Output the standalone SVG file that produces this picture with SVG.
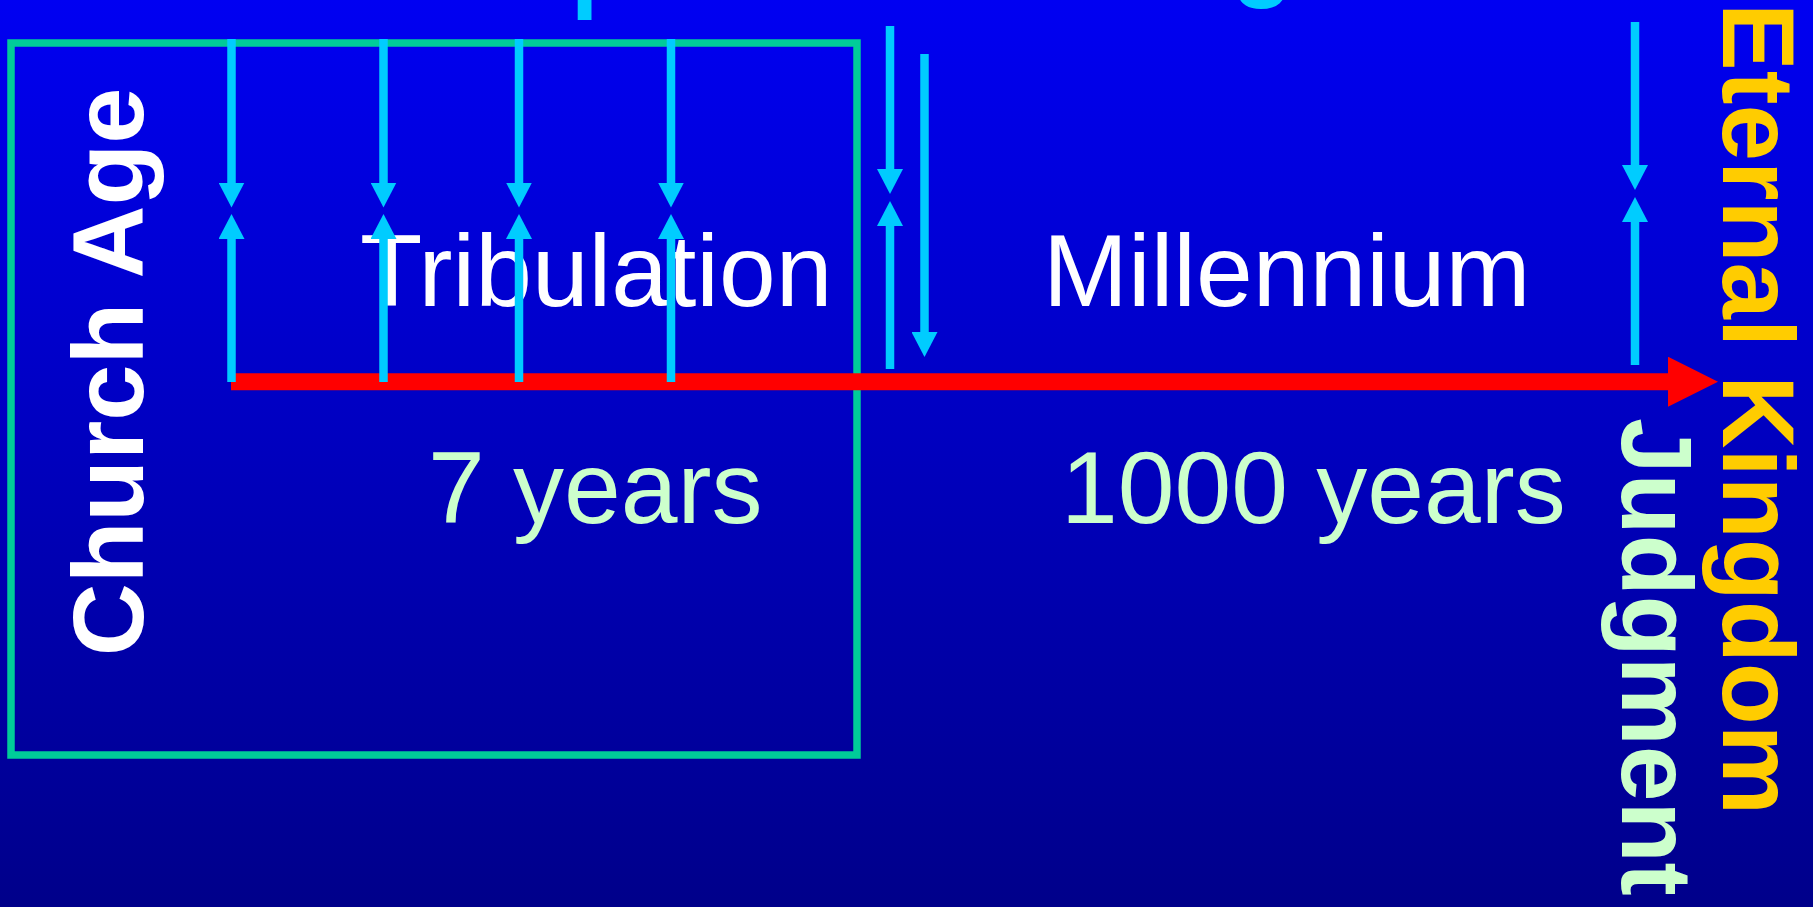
<svg xmlns="http://www.w3.org/2000/svg" width="1813" height="907" viewBox="0 0 1813 907">
  <defs>
    <linearGradient id="bg" x1="0" y1="0" x2="0" y2="1">
      <stop offset="0" stop-color="#0000F2"/>
      <stop offset="1" stop-color="#00008A"/>
    </linearGradient>
    <marker id="cyanHead" viewBox="0 -13 25 26" markerWidth="25" markerHeight="26" refX="1" refY="0" orient="auto" markerUnits="userSpaceOnUse">
      <path d="M0,-13 L25,0 L0,13 z" fill="#00CCFF"/>
    </marker>
    <marker id="redHead" viewBox="0 -25 50 50" markerWidth="50" markerHeight="50" refX="1" refY="0" orient="auto" markerUnits="userSpaceOnUse">
      <path d="M0,-25 L50,0 L0,25 z" fill="#FF0000"/>
    </marker>
  </defs>
  <style>
    .bold { font-family: "Liberation Sans", Arial, sans-serif; font-weight: bold; }
    .reg { font-family: "Liberation Sans", Arial, sans-serif; }
    .cyan { stroke: #00CCFF; stroke-width: 8.5; fill: none; marker-end: url(#cyanHead); }
    .white { fill: #FFFFFF; }
    .mint { fill: #CCFFCC; }
    .gold { fill: #FFCC00; }
    .sky { fill: #00CCFF; }
  </style>
  <rect x="0" y="0" width="1813" height="907" fill="url(#bg)"/>

  <g id="top-labels">
    <text class="bold sky" x="443" y="-1" font-size="100">Raptures</text>
    <text class="bold sky" x="1293" y="-12" font-size="100" text-anchor="end">Coming</text>
  </g>

  <g id="church-age">
    <rect x="11" y="43" width="846" height="712" fill="none" stroke="#00CC99" stroke-width="7.5"/>
    <text class="bold white" font-size="101" text-anchor="middle" transform="translate(143,372) rotate(-90)">Church Age</text>
  </g>

  <g id="tribulation">
    <text class="reg white" x="360" y="306" font-size="102">Tribulation</text>
    <text class="reg mint" x="428" y="523" font-size="102">7 years</text>
  </g>

  <g id="millennium">
    <text class="reg white" x="1043" y="306" font-size="102">Millennium</text>
    <text class="reg mint" x="1061" y="523" font-size="102">1000 years</text>
  </g>

  <g id="judgment">
    <text class="bold mint" font-size="100" transform="translate(1622,418) rotate(90)">Judgment</text>
  </g>

  <g id="eternal-kingdom">
    <text class="bold gold" font-size="101.5" transform="translate(1723,3) rotate(90)">Eternal Kingdom</text>
  </g>

  <g id="connectors">
    <line x1="231" y1="381.7" x2="1669" y2="381.7" stroke="#FF0000" stroke-width="17" marker-end="url(#redHead)"/>

    <line class="cyan" x1="231.5" y1="39" x2="231.5" y2="183.5"/>
    <line class="cyan" x1="231.5" y1="382" x2="231.5" y2="238"/>
    <line class="cyan" x1="383.5" y1="39" x2="383.5" y2="183.5"/>
    <line class="cyan" x1="383.5" y1="382" x2="383.5" y2="238"/>
    <line class="cyan" x1="519" y1="39" x2="519" y2="183.5"/>
    <line class="cyan" x1="519" y1="382" x2="519" y2="238"/>
    <line class="cyan" x1="671" y1="39" x2="671" y2="183.5"/>
    <line class="cyan" x1="671" y1="382" x2="671" y2="238"/>

    <line class="cyan" x1="890" y1="26" x2="890" y2="170"/>
    <line class="cyan" x1="890" y1="369" x2="890" y2="225"/>
    <line class="cyan" x1="924.5" y1="54" x2="924.5" y2="333"/>

    <line class="cyan" x1="1635" y1="22" x2="1635" y2="166"/>
    <line class="cyan" x1="1635" y1="365" x2="1635" y2="221"/>
  </g>
</svg>
